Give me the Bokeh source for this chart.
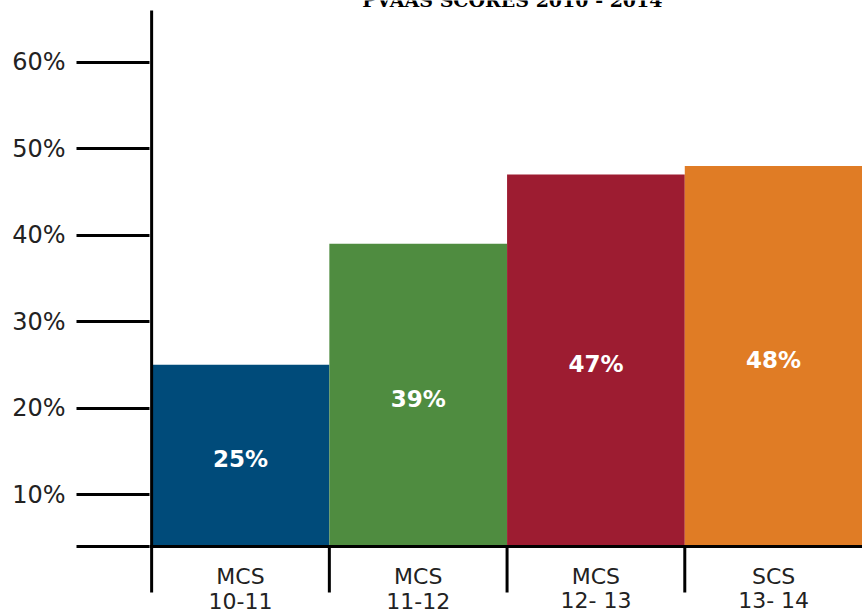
from bokeh.plotting import figure
from bokeh.models import Range1d, FixedTicker, ColumnDataSource, Span
from bokeh.core.properties import value
from bokeh.embed import file_html
from bokeh.resources import INLINE

# ---- data ----
cat_line1 = ["MCS", "MCS", "MCS", "SCS"]
cat_line2 = ["10-11", "11-12", "12- 13", "13- 14"]
scores = [25, 39, 47, 48]
colors = ["#004b7a", "#4f8c40", "#9d1c31", "#e07c25"]
tick_values = [10, 20, 30, 40, 50, 60]
title_text = "PVAAS SCORES 2010 - 2014"

# ---- layout constants ----
W, H = 862, 615
base = 4.0            # value at the baseline of the bars
px_per = 8.65         # pixels per percentage point
base_px = 546         # baseline pixel (from top)
y_end = base + base_px / px_per
y_start = base - (H - base_px) / px_per
left_px = 149
x_start = -0.012

def yv(px_from_top):
    return base + (base_px - px_from_top) / px_per

p = figure(width=W, height=H, title=None, output_backend="svg", toolbar_location=None,
           x_range=Range1d(x_start, 4), y_range=Range1d(y_start, y_end),
           x_axis_location=None, min_border_left=left_px, min_border_right=0,
           min_border_top=0, min_border_bottom=0)
p.outline_line_color = None
p.xgrid.visible = False
p.ygrid.visible = False
p.background_fill_color = "white"
p.border_fill_color = "white"

n = len(scores)
xs = [i + 0.5 for i in range(n)]
src = ColumnDataSource(dict(x=xs, top=scores, color=colors,
                            lab=[f"{v}%" for v in scores],
                            laby=[(base + v) / 2 - 0.4 for v in scores],
                            l1=cat_line1, l2=cat_line2))

p.vbar(x="x", top="top", bottom=base, width=1.0, fill_color="color",
       line_color=None, source=src)

# value labels
p.text(x="x", y="laby", text="lab", source=src, text_color="white",
       text_font=value("DejaVu Sans"), text_font_style="bold",
       text_font_size="23px", text_align="center", text_baseline="middle")

# category labels
p.text(x="x", y=yv(576), text="l1", source=src, text_color="#222222",
       text_font=value("DejaVu Sans"), text_font_size="22px",
       text_align="center", text_baseline="middle")
p.text(x="x", y=yv(600), text="l2", source=src, text_color="#222222",
       text_font=value("DejaVu Sans"), text_font_size="22px",
       text_align="center", text_baseline="middle")

# baseline
p.add_layout(Span(location=base, dimension="width", line_color="black",
                  line_width=3, level="overlay"))

# y-axis line and category separators
sep_x = [float(i) for i in range(n)]
sep_top = [yv(10)] + [base] * (n - 1)
p.segment(x0=sep_x, x1=sep_x, y0=sep_top, y1=[yv(592)] * n,
          line_color="black", line_width=3)

# clipped title at the top
p.text(x=[2.03], y=[yv(-1)], text=[title_text], text_color="black",
       text_font=value("DejaVu Serif"), text_font_style="bold",
       text_font_size="19px", text_align="center", text_baseline="alphabetic")

# y axis
ax = p.yaxis[0]
ax.ticker = FixedTicker(ticks=[base] + tick_values)
ax.major_label_overrides = {base: ""} | {t: f"{t}%" for t in tick_values}
ax.axis_line_color = None
ax.major_tick_in = 0
ax.major_tick_out = 73
ax.major_tick_line_width = 3
ax.major_tick_line_color = "black"
ax.minor_tick_line_color = None
ax.major_label_standoff = 11
ax.major_label_text_font = "DejaVu Sans"
ax.major_label_text_font_size = "24px"
ax.major_label_text_color = "#222222"

open("out.html", "w").write(file_html(p, INLINE))
